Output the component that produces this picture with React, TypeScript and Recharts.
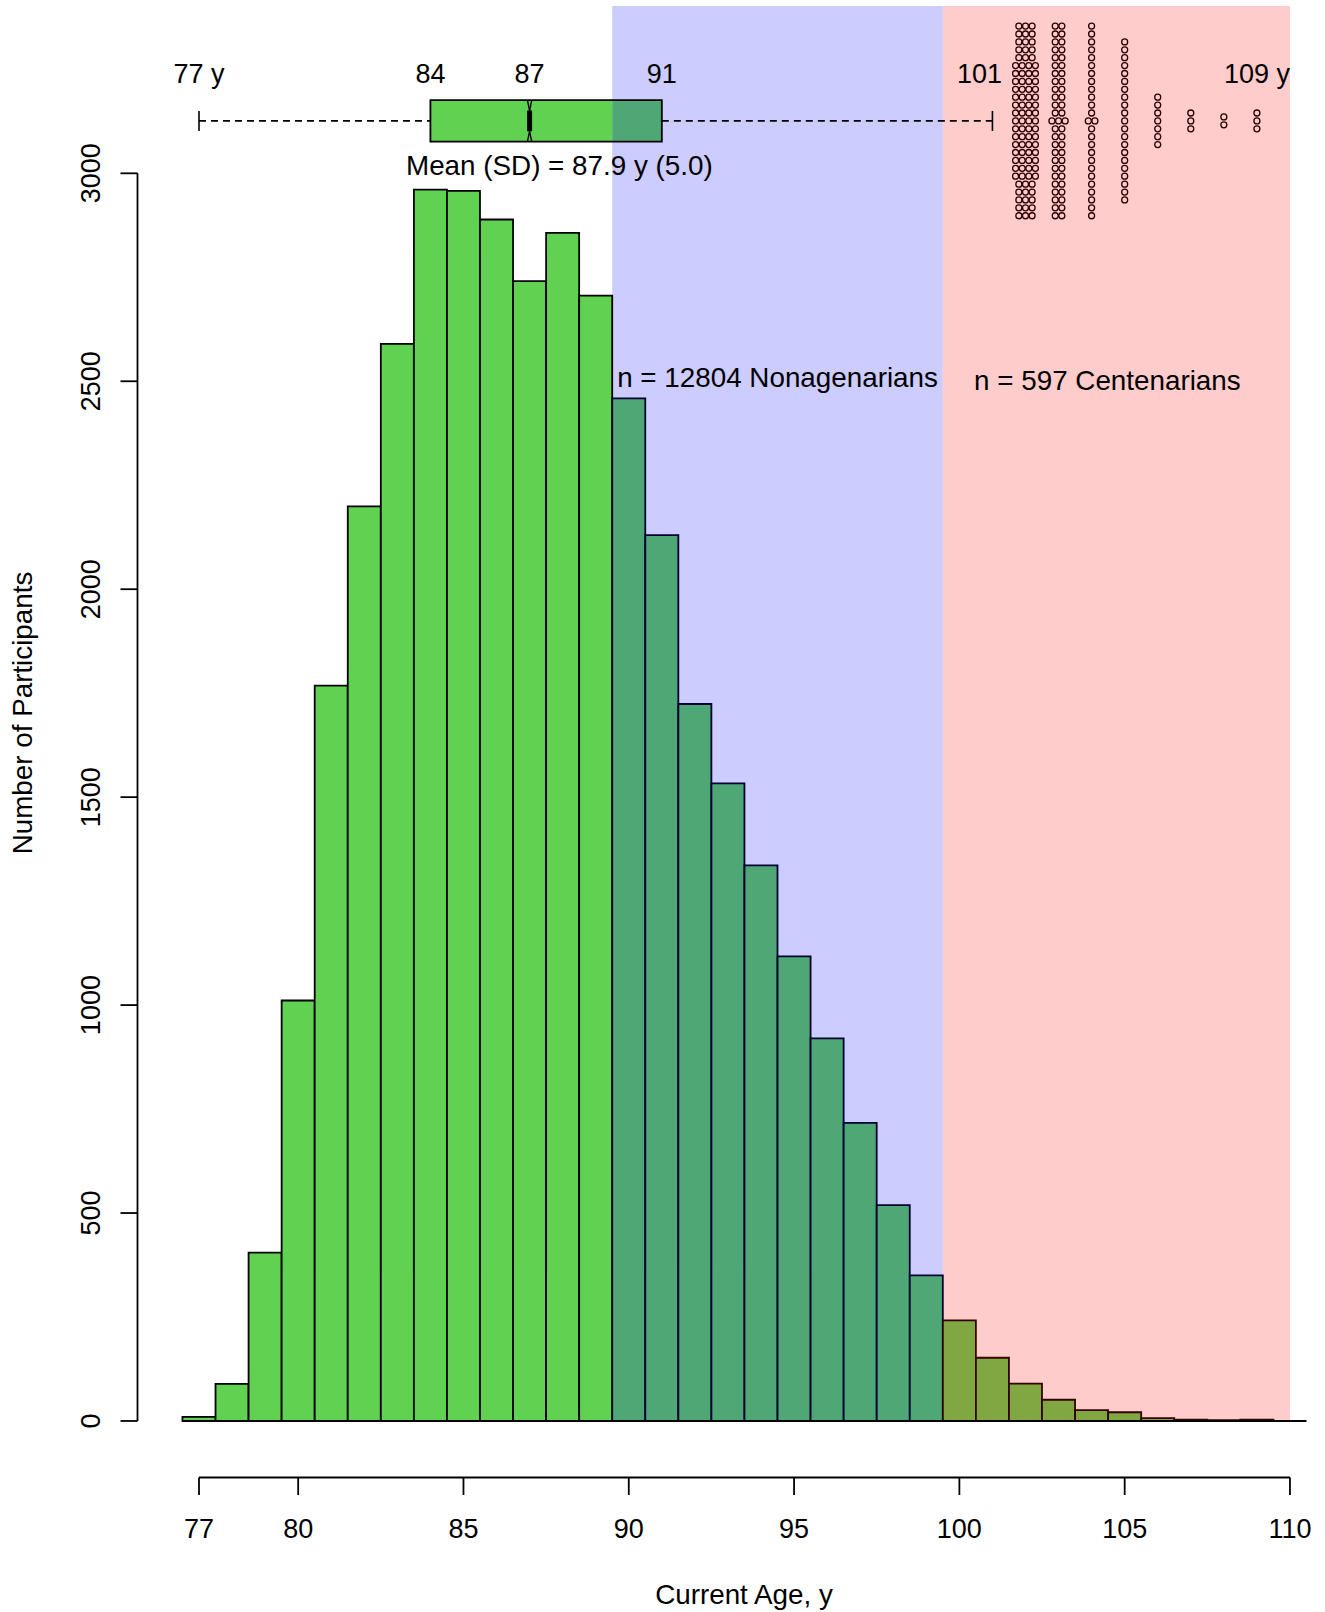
import React from 'react'
import { Bar, Cell, ComposedChart, ReferenceArea, ReferenceLine, Scatter, XAxis, YAxis } from 'recharts'

// histogram: participants by current age (1-year bins)
const ages = [77, 78, 79, 80, 81, 82, 83, 84, 85, 86, 87, 88, 89, 90, 91, 92, 93, 94, 95, 96, 97, 98, 99, 100, 101, 102, 103, 104, 105, 106, 107, 108, 109]
const counts = [10, 89, 405, 1011, 1768, 2199, 2590, 2961, 2958, 2889, 2741, 2857, 2706, 2459, 2130, 1724, 1533, 1336, 1117, 920, 717, 519, 350, 242, 152, 90, 51, 26, 21, 7, 3, 2, 3]

const xTicks = [77, 80, 85, 90, 95, 100, 105, 110]
const yTicks = [0, 500, 1000, 1500, 2000, 2500, 3000]

// box plot summary (min whisker, q1, median, q3, max whisker, max age)
const boxValues = [77, 84, 87, 91, 101, 109]
const boxLabels = ['77 y', '84', '87', '91', '101', '109 y']
const outlierAges = [102, 103, 104, 105, 106, 107, 108, 109]
const outlierCounts = [90, 51, 26, 21, 7, 3, 2, 3]

const meanAge = 87.9
const sdAge = 5.0
const nNonagenarians = 12804
const nCentenarians = 597

// group limits: nonagenarians 90-99, centenarians 100+
const nonaStart = 89.5
const centStart = 99.5
const groupEnd = 110

const W = 1325
const H = 1612
const X_DOMAIN: [number, number] = [75.14, 110.5]
const Y_DOMAIN: [number, number] = [-135.9, 3402.3]
const FONT = 'Liberation Sans, Arial, sans-serif'
const FS = 27
const FS_TEXT = 27.8

const GREEN = '#61d152'
const TEAL = '#4ea775'
const OLIVE = '#81a742'

// box plot vertical layout (y units)
const BOX_MID = 3126
const BOX_HALF = 50
const CAP_HALF = 24
const NOTCH = 0.065
const LABEL_Y = 3217
const DOT_STEP_Y = 19
const DOT_STEP_X = 0.2
const MAX_ROWS = 25

const histData = ages.map((a, i) => ({ x: a, count: counts[i] }))

const barFill = (a: number) => (a < 90 ? GREEN : a < 100 ? TEAL : OLIVE)
const barStroke = (a: number) => (a < 90 ? '#000' : a < 100 ? '#000033' : '#330000')

// stack each age's outliers in rows, wider rows in the middle
const outlierPoints: { x: number; y: number }[] = []
outlierAges.forEach((age, i) => {
  const n = outlierCounts[i]
  const rows = Math.min(n, MAX_ROWS)
  const base = Math.floor(n / rows)
  const extra = n - base * rows
  const firstWide = Math.floor((rows - extra) / 2)
  for (let r = 0; r < rows; r++) {
    const inRow = base + (r >= firstWide && r < firstWide + extra ? 1 : 0)
    for (let c = 0; c < inRow; c++) {
      outlierPoints.push({
        x: age + (c - (inRow - 1) / 2) * DOT_STEP_X,
        y: BOX_MID + ((rows - 1) / 2 - r) * DOT_STEP_Y,
      })
    }
  }
})

const labelShift = [0, 0, 0, 0, -13, 0]
const boxTexts = boxValues.map((v, i) => ({ x: v, y: LABEL_Y, text: boxLabels[i], dx: labelShift[i] }))
const noteTexts = [
  { x: meanAge, y: 2996, text: `Mean (SD) = ${meanAge.toFixed(1)} y (${sdAge.toFixed(1)})`, dx: 0 },
  { x: (nonaStart + centStart) / 2, y: 2486, text: `n = ${nNonagenarians} Nonagenarians`, dx: 0 },
  { x: (centStart + groupEnd) / 2, y: 2479, text: `n = ${nCentenarians} Centenarians`, dx: -9 },
]

const XTick = (props: any) => (
  <text x={props.x} y={1538} textAnchor="middle" fontFamily={FONT} fontSize={FS} fill="#000">
    {props.payload.value}
  </text>
)

const YTick = (props: any) => (
  <text
    x={100}
    y={props.y}
    transform={`rotate(-90, 100, ${props.y})`}
    textAnchor="middle"
    fontFamily={FONT}
    fontSize={FS}
    fill="#000"
  >
    {props.payload.value}
  </text>
)

const textShape = (size: number) => (p: any) => (
  <text x={p.cx + (p.payload.dx || 0)} y={p.cy} textAnchor="middle" fontFamily={FONT} fontSize={size} fill="#000">
    {p.payload.text}
  </text>
)

const seg = (x1: number, y1: number, x2: number, y2: number) => [
  { x: x1, y: y1 },
  { x: x2, y: y2 },
]

export default function App() {
  const [q0, q1, med, q3, q4] = boxValues
  const hi = BOX_MID + BOX_HALF
  const lo = BOX_MID - BOX_HALF
  return (
    <div style={{ position: 'absolute', left: 0, top: 0, width: W, height: H, background: '#fff' }}>
      <ComposedChart width={W} height={H} data={histData} margin={{ top: 6, right: 18.5, bottom: 74.5, left: 77.5 }}>
        <XAxis
          dataKey="x"
          type="number"
          domain={X_DOMAIN}
          allowDataOverflow
          ticks={xTicks}
          interval={0}
          axisLine={false}
          stroke="#000"
          tickLine={{ stroke: '#000', strokeWidth: 1.8 }}
          tickSize={17.5}
          tickMargin={0}
          height={60}
          tick={XTick}
          label={() => (
            <text x={744} y={1604} textAnchor="middle" fontFamily={FONT} fontSize={FS_TEXT} fill="#000">
              Current Age, y
            </text>
          )}
        />
        {/* same scale, used by the box plot marks so they do not narrow the bars */}
        <XAxis xAxisId="box" dataKey="x" type="number" domain={X_DOMAIN} allowDataOverflow hide height={0} />
        <YAxis
          type="number"
          domain={Y_DOMAIN}
          allowDataOverflow
          ticks={yTicks}
          interval={0}
          axisLine={false}
          stroke="#000"
          tickLine={{ stroke: '#000', strokeWidth: 1.8 }}
          tickSize={17}
          tickMargin={0}
          width={60}
          tick={YTick}
          label={() => (
            <text
              x={32}
              y={713}
              transform="rotate(-90, 32, 713)"
              textAnchor="middle"
              fontFamily={FONT}
              fontSize={FS_TEXT}
              fill="#000"
            >
              Number of Participants
            </text>
          )}
        />

        <ReferenceArea x1={nonaStart} x2={centStart} y1={0} y2={Y_DOMAIN[1]} fill="#ccccff" fillOpacity={1} stroke="none" />
        <ReferenceArea x1={centStart} x2={groupEnd} y1={0} y2={Y_DOMAIN[1]} fill="#ffcccc" fillOpacity={1} stroke="none" />

        <ReferenceArea x1={q1} x2={nonaStart} y1={lo} y2={hi} fill={GREEN} fillOpacity={1} stroke="none" />
        <ReferenceArea x1={nonaStart} x2={q3} y1={lo} y2={hi} fill={TEAL} fillOpacity={1} stroke="none" />
        <ReferenceArea x1={q1} x2={q3} y1={lo} y2={hi} fill="none" fillOpacity={0} stroke="#000" strokeWidth={1.8} />

        <Bar dataKey="count" barSize={33.03} isAnimationActive={false}>
          {histData.map((d) => (
            <Cell key={d.x} fill={barFill(d.x)} stroke={barStroke(d.x)} strokeWidth={1.8} />
          ))}
        </Bar>

        <ReferenceLine segment={seg(76.5, 0, 110.5, 0)} stroke="#000" strokeWidth={1.8} ifOverflow="visible" />
        <ReferenceLine segment={seg(X_DOMAIN[0], 0, X_DOMAIN[0], 3000)} stroke="#000" strokeWidth={1.8} ifOverflow="visible" />
        <ReferenceLine segment={seg(xTicks[0], Y_DOMAIN[0], xTicks[xTicks.length - 1], Y_DOMAIN[0])} stroke="#000" strokeWidth={1.8} ifOverflow="visible" />

        <ReferenceLine segment={seg(q0, BOX_MID, q1, BOX_MID)} stroke="#000" strokeWidth={1.6} strokeDasharray="7 5" />
        <ReferenceLine segment={seg(q3, BOX_MID, q4, BOX_MID)} stroke="#000" strokeWidth={1.6} strokeDasharray="7 5" />
        <ReferenceLine segment={seg(q0, BOX_MID - CAP_HALF, q0, BOX_MID + CAP_HALF)} stroke="#000" strokeWidth={1.6} />
        <ReferenceLine segment={seg(q4, BOX_MID - CAP_HALF, q4, BOX_MID + CAP_HALF)} stroke="#000" strokeWidth={1.6} />
        <ReferenceLine segment={seg(med - NOTCH, hi, med, hi - BOX_HALF / 2)} stroke="#000" strokeWidth={1.4} />
        <ReferenceLine segment={seg(med, hi - BOX_HALF / 2, med + NOTCH, hi)} stroke="#000" strokeWidth={1.4} />
        <ReferenceLine segment={seg(med - NOTCH, lo, med, lo + BOX_HALF / 2)} stroke="#000" strokeWidth={1.4} />
        <ReferenceLine segment={seg(med, lo + BOX_HALF / 2, med + NOTCH, lo)} stroke="#000" strokeWidth={1.4} />
        <ReferenceLine segment={seg(med, lo + BOX_HALF / 2, med, hi - BOX_HALF / 2)} stroke="#000" strokeWidth={5} />

        <Scatter
          xAxisId="box"
          data={outlierPoints}
          dataKey="y"
          isAnimationActive={false}
          shape={(p: any) => <circle cx={p.cx} cy={p.cy} r={3} fill="none" stroke="#2a0000" strokeWidth={1.3} />}
        />
        <Scatter xAxisId="box" data={boxTexts} dataKey="y" isAnimationActive={false} shape={textShape(FS)} />
        <Scatter xAxisId="box" data={noteTexts} dataKey="y" isAnimationActive={false} shape={textShape(FS_TEXT)} />
      </ComposedChart>
    </div>
  )
}
